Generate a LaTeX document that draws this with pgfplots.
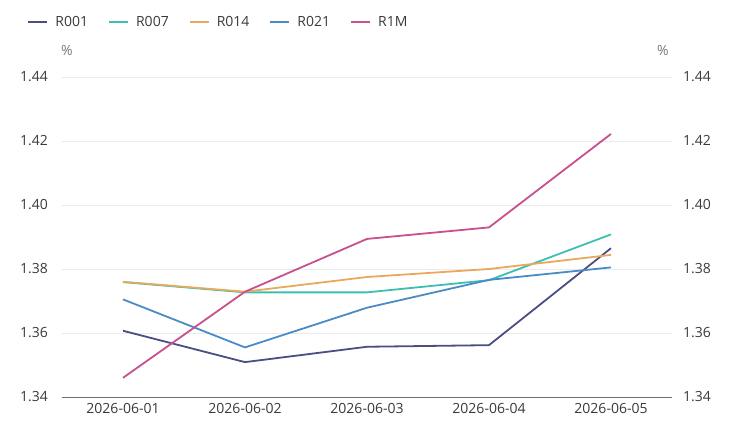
\documentclass[border=0pt]{standalone}
\usepackage{fontspec}
\setmainfont{Open Sans}
\usepackage{pgfplots}
\pgfplotsset{compat=1.18}
\definecolor{cA}{HTML}{4A4E83}
\definecolor{cB}{HTML}{3CBFAE}
\definecolor{cC}{HTML}{E8A95C}
\definecolor{cD}{HTML}{4B8BC5}
\definecolor{cE}{HTML}{C8508E}
\definecolor{cgrid}{HTML}{EBEBEB}
\definecolor{caxis}{HTML}{6E7079}
\definecolor{ctxt}{HTML}{3A3A3A}
\definecolor{cunit}{HTML}{777777}
\pgfplotsset{
  common/.style={
    at={(62pt,35pt)}, anchor=south west, scale only axis,
    width=610pt, height=320pt,
    xmin=-0.5, xmax=4.5, ymin=1.34, ymax=1.44,
    ytick={1.34,1.36,1.38,1.40,1.42,1.44},
    major tick length=0pt,
    tick style={draw=none},
    tick label style={font=\fontsize{14}{16}\selectfont, text=ctxt, inner sep=0pt},
    /pgf/number format/assume math mode=true,
    yticklabel={\pgfmathprintnumber[fixed,fixed zerofill,precision=2]{\tick}},
  }
}
\begin{document}
\begin{tikzpicture}[x=1pt,y=1pt]
\path (0,0) rectangle (732,432);
\begin{axis}[common,
  axis x line*=bottom, axis y line*=left,
  x axis line style={-, draw=caxis, line width=0.9pt},
  y axis line style={draw=none},
  xtick={0,1,2,3,4},
  xticklabels={2026-06-01,2026-06-02,2026-06-03,2026-06-04,2026-06-05},
  xticklabel style={anchor=north, yshift=-6pt},
  yticklabel style={anchor=east, xshift=-14pt},
  ymajorgrids, major grid style={cgrid, line width=0.8pt},
  legend columns=5,
  legend style={draw=none, fill=none, at={(-0.057,1.172)}, anchor=west,
    font=\fontsize{14}{16}\selectfont, text=ctxt, inner sep=0pt,
    /tikz/every odd column/.append style={column sep=5pt},
    /tikz/every even column/.append style={column sep=18pt}},
  legend image code/.code={\draw[#1, line width=2pt] (0pt,0pt) -- (19pt,0pt);},
  every axis plot/.append style={line width=1.8pt, line join=round},
  clip=false,
]
\addplot[cA, no markers] coordinates {(0,1.3607) (1,1.3509) (2,1.3557) (3,1.3562) (4,1.3865)};
\addlegendentry{R001}
\addplot[cB, no markers] coordinates {(0,1.3759) (1,1.3727) (2,1.3727) (3,1.3765) (4,1.3908)};
\addlegendentry{R007}
\addplot[cC, no markers] coordinates {(0,1.3760) (1,1.3729) (2,1.3775) (3,1.3800) (4,1.3844)};
\addlegendentry{R014}
\addplot[cD, no markers] coordinates {(0,1.3705) (1,1.3555) (2,1.3679) (3,1.3766) (4,1.3805)};
\addlegendentry{R021}
\addplot[cE, no markers] coordinates {(0,1.3460) (1,1.3729) (2,1.3894) (3,1.3930) (4,1.4222)};
\addlegendentry{R1M}
\node[font=\fontsize{14}{16}\selectfont, text=cunit] at (axis description cs:0.008,1.084) {\%};
\node[font=\fontsize{14}{16}\selectfont, text=cunit] at (axis description cs:0.985,1.084) {\%};
\end{axis}
\begin{axis}[common,
  axis x line=none, axis y line*=right,
  y axis line style={draw=none},
  xtick=\empty,
  yticklabel style={anchor=west, xshift=11pt},
]
\end{axis}
\end{tikzpicture}
\end{document}
